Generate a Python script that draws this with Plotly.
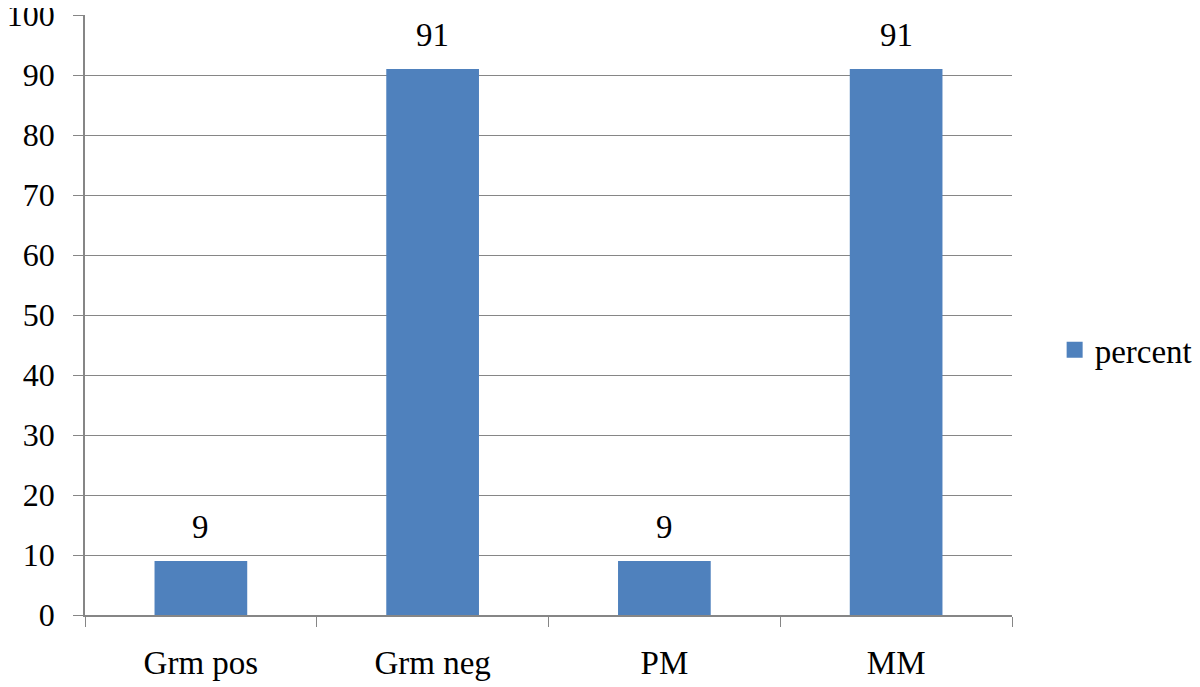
import plotly.graph_objects as go

categories = ["Grm pos", "Grm neg", "PM", "MM"]
values = [9, 91, 9, 91]
series_name = "percent"
y_ticks = [0, 10, 20, 30, 40, 50, 60, 70, 80, 90, 100]

BAR = "#4F81BD"
GRID = "#868686"
FONT = "Liberation Serif"

fig = go.Figure()
fig.add_trace(go.Bar(
    x=categories, y=values, name=series_name,
    marker=dict(color=BAR, line=dict(width=0)),
    width=0.4, showlegend=False,
))
# legend entry with a larger square swatch
fig.add_trace(go.Scatter(
    x=[None], y=[None], mode="markers", name=series_name,
    marker=dict(symbol="square", size=16, color=BAR),
    showlegend=True,
))
for c, v in zip(categories, values):
    fig.add_annotation(x=c, y=v, text=str(v), showarrow=False,
                       yanchor="bottom", yshift=14,
                       font=dict(family=FONT, size=33, color="black"))

fig.update_layout(
    width=1192, height=679,
    margin=dict(l=77, r=188, t=7, b=72, autoexpand=False),
    paper_bgcolor="white", plot_bgcolor="white",
    font=dict(family=FONT, size=33, color="black"),
    showlegend=True,
    legend=dict(x=1.046, y=0.442, xanchor="left", yanchor="middle",
                font=dict(family=FONT, size=33), itemwidth=30,
                bgcolor="rgba(0,0,0,0)"),
    bargap=0.6,
)
fig.update_xaxes(
    type="category", showline=True, linecolor=GRID, linewidth=1.5,
    ticks="outside", tickson="boundaries", ticklen=10, tickcolor=GRID,
    showgrid=False, tickfont=dict(family=FONT, size=33), automargin=False,
    ticklabelstandoff=18,
)
fig.update_yaxes(
    range=[0, 100], tickvals=y_ticks, showline=True, linecolor=GRID, linewidth=1.5,
    ticks="outside", ticklen=10, tickcolor=GRID, showgrid=True, gridcolor=GRID,
    gridwidth=1.2, zeroline=False, tickfont=dict(family=FONT, size=32),
    ticklabelstandoff=12, automargin=False, ticklabeloverflow="allow",
)
fig.write_html("out.html")
